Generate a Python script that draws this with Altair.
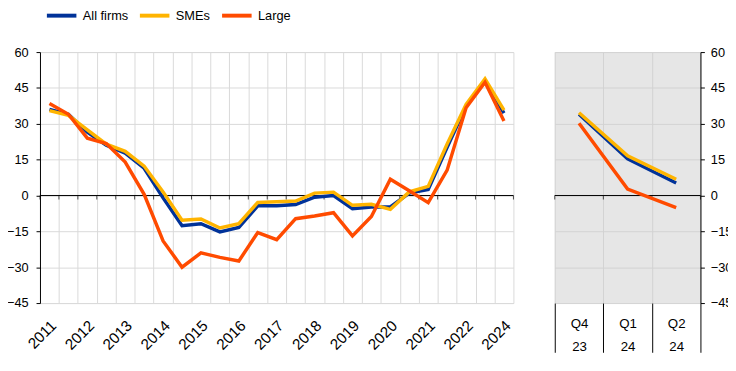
import json
import altair as alt
import pandas as pd

# ---- data ----
years = ["2011", "2012", "2013", "2014", "2015", "2016", "2017",
         "2018", "2019", "2020", "2021", "2022", "2024"]
all_firms = [36, 34, 26.5, 21, 17.7, 11.4, -1, -12.6, -11.8, -15.2, -13.4, -4.3, -4.3,
             -3.8, -0.7, 0, -5.5, -4.8, -4.8, 1, 2.5, 20.2, 37.4, 47.9, 34.5]
smes = [35.5, 33.5, 27.5, 21.5, 18.5, 12.3, 1.5, -10.3, -9.8, -13.6, -11.8, -2.9, -2.6,
        -2.3, 1, 1.4, -4.1, -3.7, -5.8, 1.5, 3.8, 21.6, 38.1, 48.8, 35.7]
large = [38.5, 34, 24, 21.7, 14, 0.5, -19, -30, -24, -25.9, -27.4, -15.5, -18.5,
         -9.7, -8.6, -7.2, -16.9, -8.8, 6.8, 2, -3, 10.6, 36.7, 47.4, 31.2]

q_top = ["Q4", "Q1", "Q2"]
q_bottom = ["23", "24", "24"]
all_q = [34, 15.3, 5.2]
smes_q = [34.6, 16.6, 6.8]
large_q = [30.2, 2.7, -5.1]

series_names = ["All firms", "SMEs", "Large"]
colors = ["#003299", "#FFB400", "#FF4B00"]
y_ticks = [-45, -30, -15, 0, 15, 30, 45, 60]

FONT = "Liberation Sans"
GRID = "#d9d9d9"

# ---- tables ----
rows = []
for name, vals in zip(series_names, [all_firms, smes, large]):
    for i, v in enumerate(vals):
        rows.append({"i": i, "value": v, "series": name})
left_df = pd.DataFrame(rows)

rows = []
for name, vals in zip(series_names, [all_q, smes_q, large_q]):
    for j, v in enumerate(vals):
        rows.append({"j": j, "value": v, "series": name})
right_df = pd.DataFrame(rows)

n_l = len(all_firms)
n_r = len(all_q)
bounds_l = pd.DataFrame({"b": [k - 0.5 for k in range(n_l + 1)]})
bounds_r = pd.DataFrame({"b": [k - 0.5 for k in range(n_r + 1)]})
zero_df = pd.DataFrame({"y": [0]})

W_L, W_R, H = 481, 148, 255

y_scale = alt.Scale(domain=[-45, 60], nice=False, zero=False)
xl_scale = alt.Scale(domain=[-0.5, n_l - 0.5], nice=False, zero=False)
xr_scale = alt.Scale(domain=[-0.5, n_r - 0.5], nice=False, zero=False)

color = alt.Color(
    "series:N",
    scale=alt.Scale(domain=series_names, range=colors),
    sort=series_names,
    legend=alt.Legend(
        orient="none", legendX=15, legendY=-44, direction="horizontal",
        title=None, symbolType="M-3,0H3", symbolSize=100, symbolStrokeWidth=4,
        labelFontSize=13, labelFont=FONT, labelColor="black",
        labelOffset=14.5, columnPadding=3.5, padding=0,
    ),
)

# ---- left panel ----
yrs_js = json.dumps(years).replace('"', "'")
xl_axis = alt.Axis(
    values=[k - 0.5 for k in range(n_l)], grid=True, gridColor=GRID,
    ticks=False, domain=False, title=None,
    labelExpr=(f"(round(datum.value+0.5) % 2 == 0) ? "
               f"{yrs_js}[round(datum.value+0.5)/2] : ''"),
    labelAngle=315, labelAlign="right", labelBaseline="top",
    labelOffset=W_L / n_l / 2 - 1, labelPadding=15,
    labelFontSize=15.5, labelFont=FONT, labelColor="black",
    labelOverlap=False, labelBound=False, labelFlush=False,
)
yl_axis = alt.Axis(
    values=y_ticks, grid=True, gridColor=GRID, domain=True, domainColor="black",
    ticks=True, tickColor="black", tickSize=4, labelPadding=8,
    labelFontSize=13, labelFont=FONT, labelColor="black", title=None,
)

l_zero = alt.Chart(zero_df).mark_rule(color="black", strokeWidth=1).encode(
    y=alt.Y("y:Q", scale=y_scale, axis=yl_axis)
)
l_ticks = alt.Chart(bounds_l).mark_tick(
    color="black", orient="vertical", size=4, thickness=1, yOffset=2
).encode(
    x=alt.X("b:Q", scale=xl_scale, axis=xl_axis),
    y=alt.YDatum(0, scale=y_scale, axis=yl_axis),
)
l_lines = alt.Chart(left_df).mark_line(strokeWidth=3.5).encode(
    x=alt.X("i:Q", scale=xl_scale, axis=xl_axis),
    y=alt.Y("value:Q", scale=y_scale, axis=yl_axis),
    color=color,
)
left = alt.layer(l_zero, l_ticks, l_lines).properties(
    width=W_L, height=H, view=alt.ViewBackground(stroke=GRID, strokeWidth=1)
)

# ---- right panel ----
qlab = [[a, b] for a, b in zip(q_top, q_bottom)] + [""]
qlab_js = json.dumps(qlab).replace('"', "'")
xr_axis = alt.Axis(
    values=[k - 0.5 for k in range(n_r + 1)], grid=True, gridColor="#d2d2d2",
    ticks=True, tickSize=50, tickColor="black", domain=False, title=None,
    labelExpr=f"{qlab_js}[round(datum.value+0.5)]",
    labelOffset=W_R / n_r / 2, labelPadding=-36, labelAlign="center",
    labelBaseline="top", labelLineHeight=23,
    labelFontSize=13.5, labelFont=FONT, labelColor="black",
    labelOverlap=False, labelBound=False, labelFlush=False,
)
yr_axis = alt.Axis(
    orient="right", values=y_ticks, grid=True, gridColor="#d2d2d2", domain=True,
    domainColor="black", ticks=True, tickColor="black", tickSize=4, labelPadding=6,
    labelFontSize=13, labelFont=FONT, labelColor="black", title=None,
)
r_zero = alt.Chart(zero_df).mark_rule(color="black", strokeWidth=1).encode(
    y=alt.Y("y:Q", scale=y_scale, axis=yr_axis)
)
r_ticks = alt.Chart(bounds_r).mark_tick(
    color="black", orient="vertical", size=4, thickness=1, yOffset=2
).encode(
    x=alt.X("b:Q", scale=xr_scale, axis=xr_axis),
    y=alt.YDatum(0, scale=y_scale, axis=yr_axis),
)
r_lines = alt.Chart(right_df).mark_line(strokeWidth=3.5).encode(
    x=alt.X("j:Q", scale=xr_scale, axis=xr_axis),
    y=alt.Y("value:Q", scale=y_scale, axis=yr_axis),
    color=color,
)
right = alt.layer(r_zero, r_ticks, r_lines).properties(
    width=W_R, height=H, view=alt.ViewBackground(fill="#e6e6e6", strokeWidth=0)
)

chart = alt.hconcat(left, right, spacing=40).properties(
    padding={"left": -2.5, "top": -2, "right": -5, "bottom": 0}
).configure_view(strokeWidth=0).configure(font=FONT)

chart.save("out.html", embed_options={"renderer": "svg", "actions": False})
